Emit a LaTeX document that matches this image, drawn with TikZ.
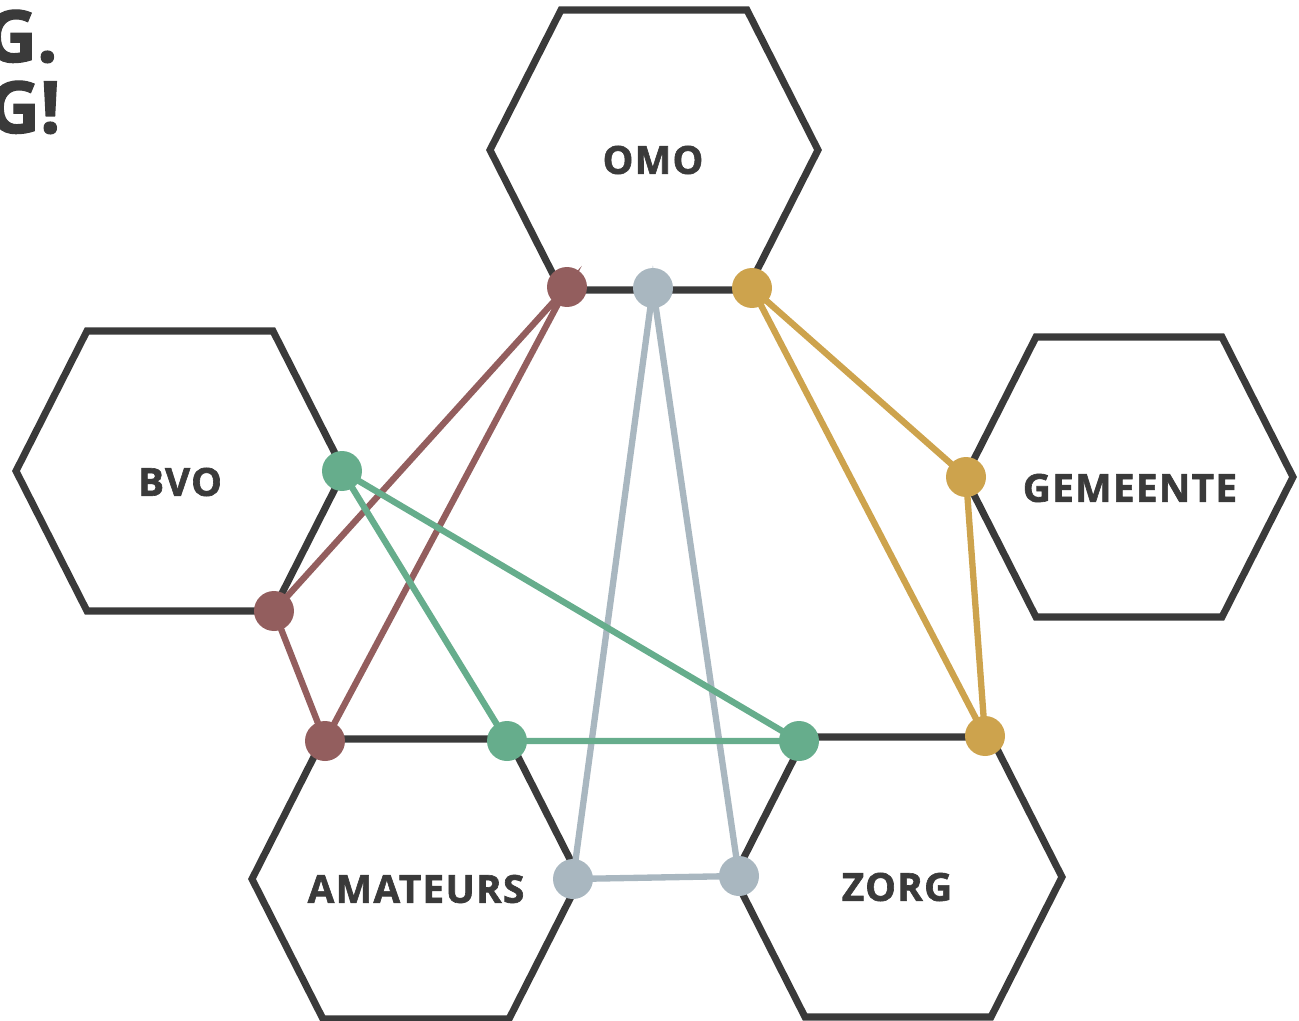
\documentclass[tikz,border=0pt]{standalone}
\usepackage{fontspec}
\setmainfont{Open Sans}[BoldFeatures={FakeBold=1.6}]
\usepackage{xcolor}
\usepackage{tikz}
\usetikzlibrary{calc}
\definecolor{cdark}{HTML}{3A3A3A}
\definecolor{cred}{HTML}{935E5E}
\definecolor{cgray}{HTML}{A9B7C0}
\definecolor{cgold}{HTML}{CDA34D}
\definecolor{cgreen}{HTML}{66AD8C}

\begin{document}
\begin{tikzpicture}[
    x=0.02cm, y=-0.02cm,
    hexline/.style={draw=cdark, line width=4pt, line join=miter},
    hexlabel/.style={text=cdark, font=\bfseries\fontsize{22}{24}\selectfont\addfontfeature{LetterSpace=3.5}, inner sep=0pt},
    titletext/.style={text=cdark, font=\bfseries\fontsize{41}{44}\selectfont, inner sep=0pt},
    link/.style={line width=3.6pt},
    dot/.style={circle, fill=#1, minimum size=0.8cm, inner sep=0pt},
]
    \useasboundingbox (0,0) rectangle (1299,1021);

    % hexagon centres
    \coordinate (omo) at (654,150);
    \coordinate (bvo) at (180,471);
    \coordinate (gem) at (1129,477);
    \coordinate (ama) at (416,879);
    \coordinate (zorg) at (898,877);

    \foreach \c in {omo, bvo, gem, ama, zorg} {
        \draw[hexline] (\c) ++(-164,0) -- ++(71,-140) -- ++(186,0) -- ++(71,140)
            -- ++(-71,140) -- ++(-186,0) -- cycle;
    }

    \node[hexlabel] (omolbl) at (653,160) {OMO};
    \node[hexlabel] (bvolbl) at (180,482) {BVO};
    \node[hexlabel] (gemlbl) at (1130,488) {GEMEENTE};
    \node[hexlabel] (amalbl) at (416,889) {AMATEURS};
    \node[hexlabel] (zorglbl) at (897,887) {ZORG};

    \node[titletext, anchor=base east] (title1) at (58,62) {G.};
    \node[titletext, anchor=base east] (title2) at (61,133) {G!};

    % connection points
    \coordinate (omor) at (567,287);
    \coordinate (omog) at (653,288);
    \coordinate (omoy) at (752,288);
    \coordinate (bvogr) at (342,471);
    \coordinate (bvor) at (274,611);
    \coordinate (gemy) at (966,477);
    \coordinate (amar) at (325,741);
    \coordinate (amagr) at (507,741);
    \coordinate (amag) at (573,879);
    \coordinate (zorggr) at (799,741);
    \coordinate (zorgy) at (985,736);
    \coordinate (zorgg) at (739,876);

    \draw[link, cred] (omor) -- (bvor) -- (amar) -- cycle;
    \draw[link, cgray] (omog) -- (amag) -- (zorgg) -- cycle;
    \draw[link, cgold] (omoy) -- (gemy) -- (zorgy) -- cycle;
    \draw[link, cgreen] (bvogr) -- (amagr) -- (zorggr) -- cycle;

    \foreach \p in {omor, bvor, amar} \node[dot=cred] at (\p) {};
    \foreach \p in {omog, amag, zorgg} \node[dot=cgray] at (\p) {};
    \foreach \p in {omoy, gemy, zorgy} \node[dot=cgold] at (\p) {};
    \foreach \p in {bvogr, amagr, zorggr} \node[dot=cgreen] at (\p) {};
\end{tikzpicture}
\end{document}
